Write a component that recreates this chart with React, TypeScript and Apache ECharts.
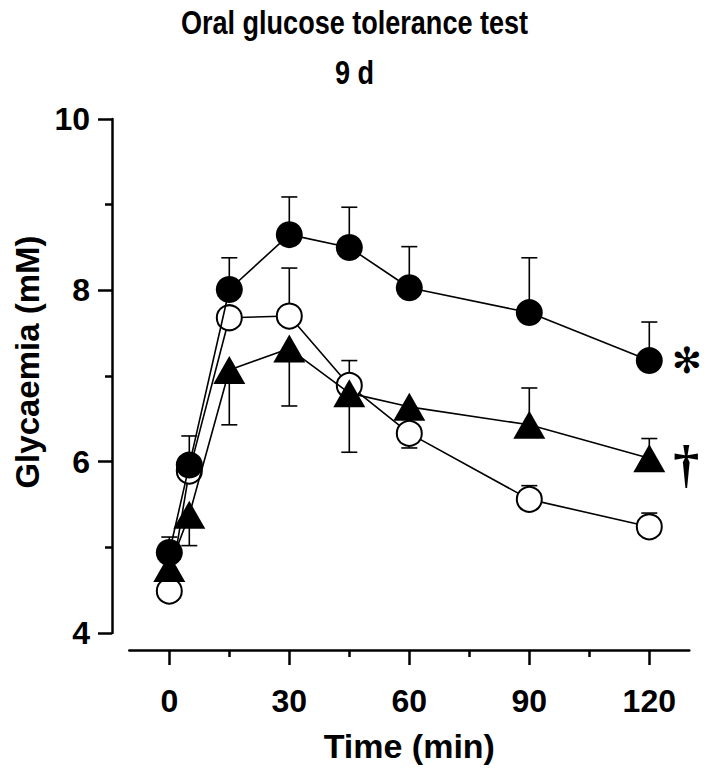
import React, { useEffect, useRef } from "react";
import * as echarts from "echarts";

const times = [0, 5, 15, 30, 45, 60, 90, 120];
const filledMean = [4.94, 5.96, 8.01, 8.65, 8.5, 8.03, 7.74, 7.18];
const filledErr = [5.12, 6.3, 8.38, 9.09, 8.97, 8.51, 8.38, 7.63];
const openMean = [4.49, 5.89, 7.68, 7.7, 6.89, 6.33, 5.56, 5.24];
const openErr: (number | null)[] = [null, null, null, 8.26, 7.18, null, 5.72, 5.4];
const triMean = [4.76, 5.38, 7.07, 7.32, 6.8, 6.64, 6.43, 6.04];
const triErr: (number | null)[] = [null, 5.02, 6.43, 6.65, 6.11, 6.16, 6.86, 6.27];
const xMajorTicks = [0, 30, 60, 90, 120];
const xMinorTicks = [15, 45, 75, 105];
const titleLines = ["Oral glucose tolerance test", "9 d"];

const FONT = "'Liberation Sans', Arial, sans-serif";

function errData(mean: number[], err: (number | null)[]) {
  const out: number[][] = [];
  times.forEach((t, i) => {
    const e = err[i];
    if (e !== null && e !== undefined) out.push([t, mean[i], e]);
  });
  return out;
}

function pts(mean: number[]) {
  return times.map((t, i) => [t, mean[i]]);
}

const renderErr = (params: any, api: any) => {
  const x = api.value(0);
  const m = api.value(1);
  const e = api.value(2);
  const p0 = api.coord([x, m]);
  const p1 = api.coord([x, e]);
  const hw = 8;
  return {
    type: "group",
    children: [
      {
        type: "line",
        shape: { x1: p0[0], y1: p0[1], x2: p1[0], y2: p1[1] },
        style: { stroke: "#000", lineWidth: 1.6 },
      },
      {
        type: "line",
        shape: { x1: p1[0] - hw, y1: p1[1], x2: p1[0] + hw, y2: p1[1] },
        style: { stroke: "#000", lineWidth: 1.6 },
      },
    ],
  };
};

export default function App() {
  const ref = useRef<HTMLDivElement>(null);
  useEffect(() => {
    if (!ref.current) return;
    const chart = echarts.init(ref.current, undefined, { renderer: "svg" });
    const filledPts: any[] = pts(filledMean);
    filledPts[filledPts.length - 1] = {
      value: filledPts[filledPts.length - 1],
      label: {
        show: true,
        formatter: "\u273B",
        position: "right",
        distance: 9,
        fontSize: 36,
        fontFamily: "'DejaVu Sans', sans-serif",
        color: "#000",
      },
    };
    const triPts: any[] = pts(triMean);
    triPts[triPts.length - 1] = {
      value: triPts[triPts.length - 1],
      label: {
        show: true,
        formatter: "\u2020",
        position: "right",
        distance: 8,
        offset: [0, 6],
        fontSize: 52,
        fontWeight: "bold",
        fontFamily: "'Liberation Serif', serif",
        color: "#000",
      },
    };
    const titleStyle = {
      fontFamily: FONT,
      fontWeight: "bold",
      fontSize: 33,
      fill: "#000",
      textAlign: "center",
      textVerticalAlign: "middle",
    };
    const option: any = {
      animation: false,
      backgroundColor: "#fff",
      graphic: [
        {
          type: "text",
          x: 354.5,
          y: 23,
          scaleX: 0.82,
          style: { ...titleStyle, text: titleLines[0] },
        },
        {
          type: "text",
          x: 354.5,
          y: 73,
          scaleX: 0.82,
          style: { ...titleStyle, text: titleLines[1] },
        },
      ],
      grid: { left: 129.3, top: 119, width: 560, height: 514, containLabel: false },
      xAxis: [
        {
          type: "value",
          min: -10,
          max: 130,
          position: "bottom",
          offset: 17,
          name: "Time (min)",
          nameLocation: "middle",
          nameGap: 79,
          nameMoveOverlap: false,
          nameTextStyle: { fontFamily: FONT, fontWeight: "bold", fontSize: 34, color: "#000" },
          axisLine: { show: true, onZero: false, lineStyle: { color: "#000", width: 2.5 } },
          axisTick: { show: true, customValues: xMajorTicks, length: 15, lineStyle: { color: "#000", width: 2.5 } },
          axisLabel: {
            customValues: xMajorTicks,
            margin: 35,
            fontFamily: FONT,
            fontWeight: "bold",
            fontSize: 32,
            color: "#000",
          },
          splitLine: { show: false },
        },
        {
          type: "value",
          min: -10,
          max: 130,
          position: "bottom",
          offset: 17,
          axisLine: { show: false, onZero: false },
          axisTick: { show: true, customValues: xMinorTicks, length: 7, lineStyle: { color: "#000", width: 2.5 } },
          axisLabel: { show: false },
          splitLine: { show: false },
        },
      ],
      yAxis: {
        type: "value",
        min: 4,
        max: 10,
        interval: 2,
        offset: 17.3,
        name: "Glycaemia (mM)",
        nameLocation: "middle",
        nameGap: 68,
        nameMoveOverlap: false,
        nameTextStyle: {
          fontFamily: FONT,
          fontWeight: "bold",
          fontSize: 33,
          color: "#000",
          padding: [0, 0, 0, 28],
        },
        axisLine: { show: true, onZero: false, lineStyle: { color: "#000", width: 2.5 } },
        axisTick: { show: true, length: 14, lineStyle: { color: "#000", width: 2.5 } },
        minorTick: { show: true, splitNumber: 2, length: 7, lineStyle: { color: "#000", width: 2.5 } },
        axisLabel: { margin: 22, fontFamily: FONT, fontWeight: "bold", fontSize: 32, color: "#000" },
        splitLine: { show: false },
      },
      series: [
        {
          type: "custom",
          renderItem: renderErr,
          data: errData(openMean, openErr),
          encode: { x: 0, y: [1, 2] },
          z: 1,
          silent: true,
        },
        {
          type: "custom",
          renderItem: renderErr,
          data: errData(triMean, triErr),
          encode: { x: 0, y: [1, 2] },
          z: 1,
          silent: true,
        },
        {
          type: "custom",
          renderItem: renderErr,
          data: errData(filledMean, filledErr),
          encode: { x: 0, y: [1, 2] },
          z: 1,
          silent: true,
        },
        {
          type: "line",
          data: pts(openMean),
          symbol: "circle",
          symbolSize: 25,
          lineStyle: { color: "#000", width: 1.6 },
          itemStyle: { color: "#fff", borderColor: "#000", borderWidth: 2 },
          z: 3,
        },
        {
          type: "line",
          data: triPts,
          symbol: "triangle",
          symbolSize: [32, 28],
          lineStyle: { color: "#000", width: 1.6 },
          itemStyle: { color: "#000" },
          z: 4,
        },
        {
          type: "line",
          data: filledPts,
          symbol: "circle",
          symbolSize: 27,
          lineStyle: { color: "#000", width: 1.6 },
          itemStyle: { color: "#000" },
          z: 5,
        },
      ],
    };
    chart.setOption(option);
    return () => chart.dispose();
  }, []);
  return (
    <div
      ref={ref}
      style={{ position: "absolute", left: 0, top: 0, width: 709, height: 771, background: "#fff" }}
    />
  );
}
